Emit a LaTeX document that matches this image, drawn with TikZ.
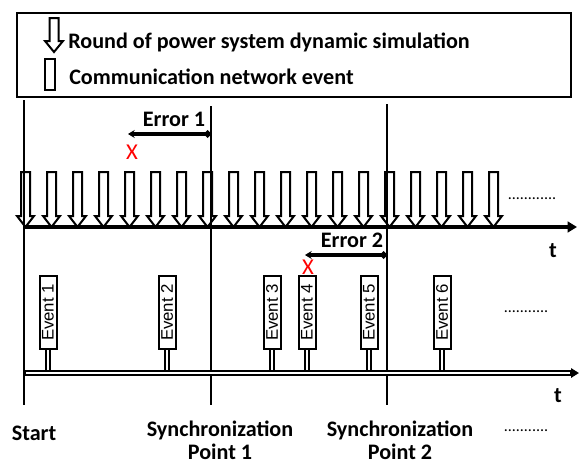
\documentclass[tikz,border=0pt]{standalone}
\usepackage{fontspec}
\setmainfont{Carlito}
\newfontfamily\arialfont{Liberation Sans}
\usepackage{xcolor}
\usetikzlibrary{arrows.meta, positioning}
\definecolor{errred}{RGB}{255,0,0}

\begin{document}
\begin{tikzpicture}[
    x=0.75pt, y=-0.75pt,
    lbl/.style={font=\bfseries\fontsize{16.6}{17.2}\selectfont, inner sep=0pt, align=center},
    simarrow/.style={draw, line width=1.5pt, line join=miter},
    event/.style={draw, fill=white, rotate=90, line width=1.5pt, minimum width=54.75pt, minimum height=12.75pt, inner sep=0pt, font=\arialfont\fontsize{12.6}{13}\selectfont},
    stem/.style={line width=1.1pt, double=white, double distance=1.8pt},
    syncline/.style={line width=1.1pt},
    errarrow/.style={line width=2.6pt, {Stealth[length=5pt,width=6pt]}-{Circle[length=5pt]}},
    xmark/.style={text=errred, font=\fontsize{17}{17}\selectfont, inner sep=0pt},
    dots/.style={font=\fontsize{12}{12}\selectfont, inner sep=0pt}
]
    \useasboundingbox (0,0) rectangle (579,464);

    % Legend
    \draw[line width=1.5pt] (17,13) rectangle (571,97);
    \draw[simarrow] (49.5,18) -- (58.5,18) -- (58.5,41) -- (63,41) -- (54,52) -- (45,41) -- (49.5,41) -- cycle;
    \node (lgdev) [draw, line width=1.5pt, minimum width=7.5pt, minimum height=23pt, inner sep=0pt] at (50,74.5) {};
    \node (lgd1) [lbl, anchor=west] at (68,42) {Round of power system dynamic simulation};
    \node (lgd2) [lbl, anchor=west] at (69,77) {Communication network event};

    % Time lines
    \coordinate (start) at (24,100);
    \coordinate (sync1) at (211,106);
    \coordinate (sync2) at (387,104);
    \draw[syncline] (start) -- (24,405);
    \draw[syncline] (sync1) -- (211,405);
    \draw[syncline] (sync2) -- (387,405);

    % Rounds of simulation
    \foreach \x in {0,...,18}{
        \pgfmathsetmacro{\c}{25.5+26*\x}
        \draw[simarrow] (\c-4.5,172) -- (\c+4.5,172) -- (\c+4.5,216) -- (\c+8.5,216) -- (\c,227) -- (\c-8.5,216) -- (\c-4.5,216) -- cycle;
    }
    \coordinate (axisA0) at (23,227);
    \coordinate (axisA1) at (577,227);
    \draw[line width=3pt, -{Triangle[length=7pt,width=8pt]}] (axisA0) -- (axisA1);
    \node (tA) [lbl] at (553,251) {t};
    \node (dotsA) [dots] at (532,199) {............};

    % Errors
    \coordinate (err1) at (128,134);
    \coordinate (err2) at (305,255);
    \draw[errarrow] (err1) -- (err1 -| sync1);
    \draw[errarrow] (err2) -- (err2 -| sync2);
    \node (err1lbl) [lbl] at (174,119) {Error 1};
    \node (err2lbl) [lbl] at (352,240) {Error 2};
    \node (x1) [xmark] at (132,152) {X};
    \node (x2) [xmark] at (308,267) {X};

    % Communication events
    \coordinate (axisB0) at (23,373);
    \coordinate (axisB1) at (579,373);
    \draw[line width=4.4pt, -{Triangle[length=6pt,width=7pt]}] (axisB0) -- (axisB1);
    \draw[white, line width=1.2pt] (26,373) -- (570,373);
    \foreach \x/\n in {48/1,167/2,272/3,307/4,369/5,442/6}{
        \node (ev\n) [event] at (\x,312.5) {Event \n};
        \draw[stem] (ev\n.west) -- (ev\n.west |- 0,370);
    }
    \node (tB) [lbl] at (558,396) {t};
    \node (dotsB) [dots] at (526,312) {...........};

    % Bottom labels
    \node (startlbl) [lbl] at (34,433) {Start};
    \node (sync1lbl) [lbl] at (220,440) {Synchronization\\Point 1};
    \node (sync2lbl) [lbl] at (400,440) {Synchronization\\Point 2};
    \node (dotsC) [dots] at (526,431) {...........};
\end{tikzpicture}
\end{document}
